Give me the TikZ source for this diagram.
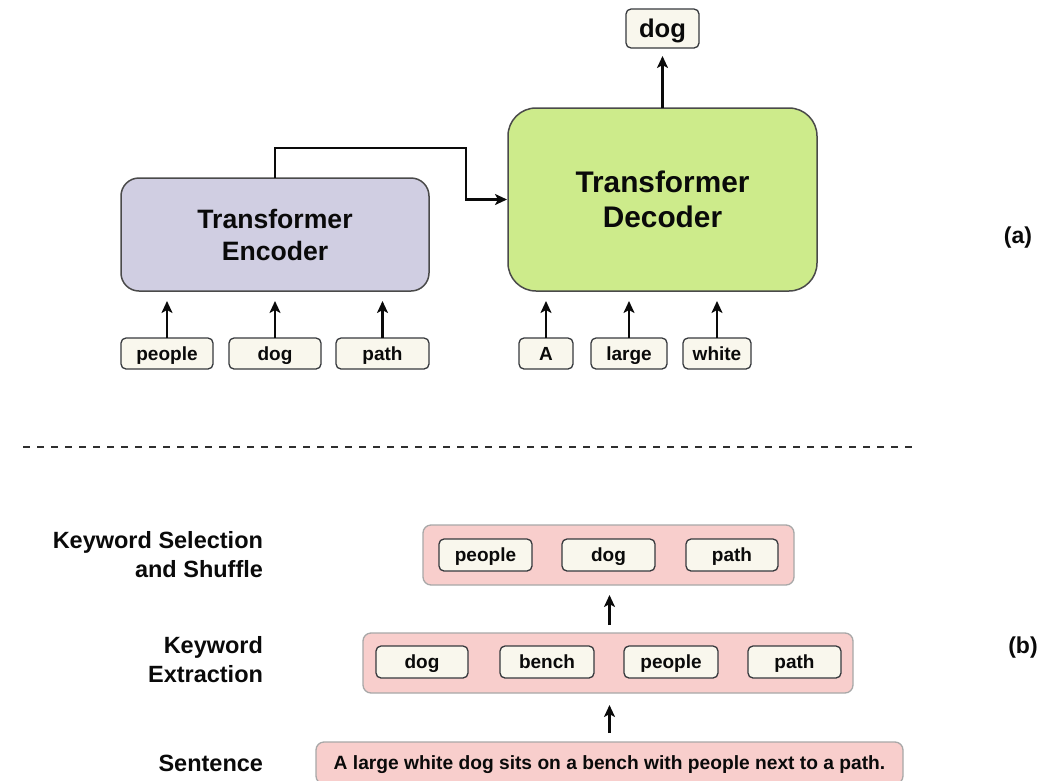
\documentclass[tikz,border=0pt]{standalone}
\usepackage{fontspec}
\setmainfont{Liberation Sans}
\usetikzlibrary{arrows.meta,calc}

\definecolor{tokfill}{HTML}{F9F7ED}
\definecolor{tokline}{HTML}{36393D}
\definecolor{encfill}{HTML}{D0CEE2}
\definecolor{encline}{HTML}{4A4A4A}
\definecolor{decfill}{HTML}{CDEB8B}
\definecolor{pinkfill}{HTML}{F8CECC}
\definecolor{pinkline}{HTML}{A8A8A8}
\definecolor{inkc}{HTML}{0A0A0A}

\tikzset{
  every node/.style={inner sep=0pt, outer sep=0pt, text=inkc},
  tok/.style={draw=tokline, fill=tokfill, line width=1.3pt, rounded corners=5pt,
    minimum height=31pt, text height=17.2pt, text depth=4pt,
    font=\fontsize{19}{22}\selectfont\bfseries},
  bigbox/.style={draw=encline, line width=1.5pt, align=center},
  group/.style={draw=pinkline, fill=pinkfill, line width=1.3pt, rounded corners=8pt},
  stage/.style={anchor=east, align=right, font=\fontsize{23.5}{29}\selectfont\bfseries},
  tag/.style={font=\fontsize{23}{26}\selectfont\bfseries},
  arr/.style={draw=inkc, line width=2.2pt, -{Stealth[length=12pt,width=11pt,inset=3pt]}},
}

\begin{document}
\begin{tikzpicture}[x=1pt,y=-1pt]
\useasboundingbox (0,0) rectangle (1053,780);
\clip (0,0) rectangle (1053,780);

% ---------- (a) encoder / decoder ----------
\node[bigbox, fill=encfill, rounded corners=18pt, minimum width=308pt, minimum height=113pt,
      font=\fontsize{26.6}{32}\selectfont\bfseries] (enc) at (275,234.5) {Transformer\\Encoder};
\node[bigbox, fill=decfill, rounded corners=28pt, minimum width=309pt, minimum height=183pt,
      font=\fontsize{29.8}{35}\selectfont\bfseries] (dec) at (662.5,199.5) {Transformer\\Decoder};

\node[tok, minimum width=73pt, minimum height=39pt, text height=23.2pt, text depth=5.4pt,
      font=\fontsize{25.6}{28}\selectfont\bfseries] (out) at (662.5,28.5) {dog};

\node[tok, minimum width=92pt] (e1) at (167,353.5) {people};
\node[tok, minimum width=92pt] (e2) at (275,353.5) {dog};
\node[tok, minimum width=93pt] (e3) at (382.5,353.5) {path};

\node[tok, minimum width=54pt] (d1) at (546,353.5) {A};
\node[tok, minimum width=76pt] (d2) at (629,353.5) {large};
\node[tok, minimum width=68pt] (d3) at (717,353.5) {white};

\foreach \t in {e1,e2,e3} \draw[arr, shorten >=10pt] (\t.north) -- (\t.north |- enc.south);
\foreach \t in {d1,d2,d3} \draw[arr, shorten >=10pt] (\t.north) -- (\t.north |- dec.south);
\draw[arr, shorten >=8pt] (dec.north) -- (out.south);

\coordinate (bend) at (466,148);
\draw[arr, shorten >=1pt] (enc.north) |- (bend) |- (dec.west);

\node[tag] (ta) at (1018,238) {(a)};

% ---------- separator ----------
\coordinate (sepL) at (23,447);
\coordinate (sepR) at (918,447);
\draw[draw=inkc!85, line width=2pt, dash pattern=on 7pt off 7pt] (sepL) -- (sepR);

% ---------- (b) keyword pipeline ----------
\node[group, minimum width=371pt, minimum height=60pt] (sel) at (608.5,555) {};
\node[tok, minimum width=93pt, minimum height=32pt] (s1) at (485.5,555) {people};
\node[tok, minimum width=93pt, minimum height=32pt] (s2) at (608.5,555) {dog};
\node[tok, minimum width=92pt, minimum height=32pt] (s3) at (732,555) {path};

\node[group, minimum width=490pt, minimum height=60pt] (ext) at (608,663) {};
\node[tok, minimum width=92pt, minimum height=32pt] (k1) at (422,662) {dog};
\node[tok, minimum width=94pt, minimum height=32pt] (k2) at (547,662) {bench};
\node[tok, minimum width=94pt, minimum height=32pt] (k3) at (671,662) {people};
\node[tok, minimum width=93pt, minimum height=32pt] (k4) at (794.5,662) {path};

\node[group, minimum width=587pt, minimum height=42pt, text height=17.4pt, text depth=4.1pt,
      font=\fontsize{19.2}{22}\selectfont\bfseries] (sent) at (609.5,763)
      {A large white dog sits on a bench with people next to a path.};

\draw[arr, shorten <=8pt, shorten >=10pt] (ext.north -| sent.north) -- (sel.south -| sent.north);
\draw[arr, shorten <=9pt, shorten >=12pt] (sent.north) -- (ext.south -| sent.north);

\node[stage] (l1) at (263,555) {Keyword Selection\\and Shuffle};
\node[stage] (l2) at (263,659.5) {Keyword\\Extraction};
\node[stage] (l3) at (263,763.5) {Sentence};

\node[tag] (tb) at (1023,648) {(b)};
\end{tikzpicture}
\end{document}
